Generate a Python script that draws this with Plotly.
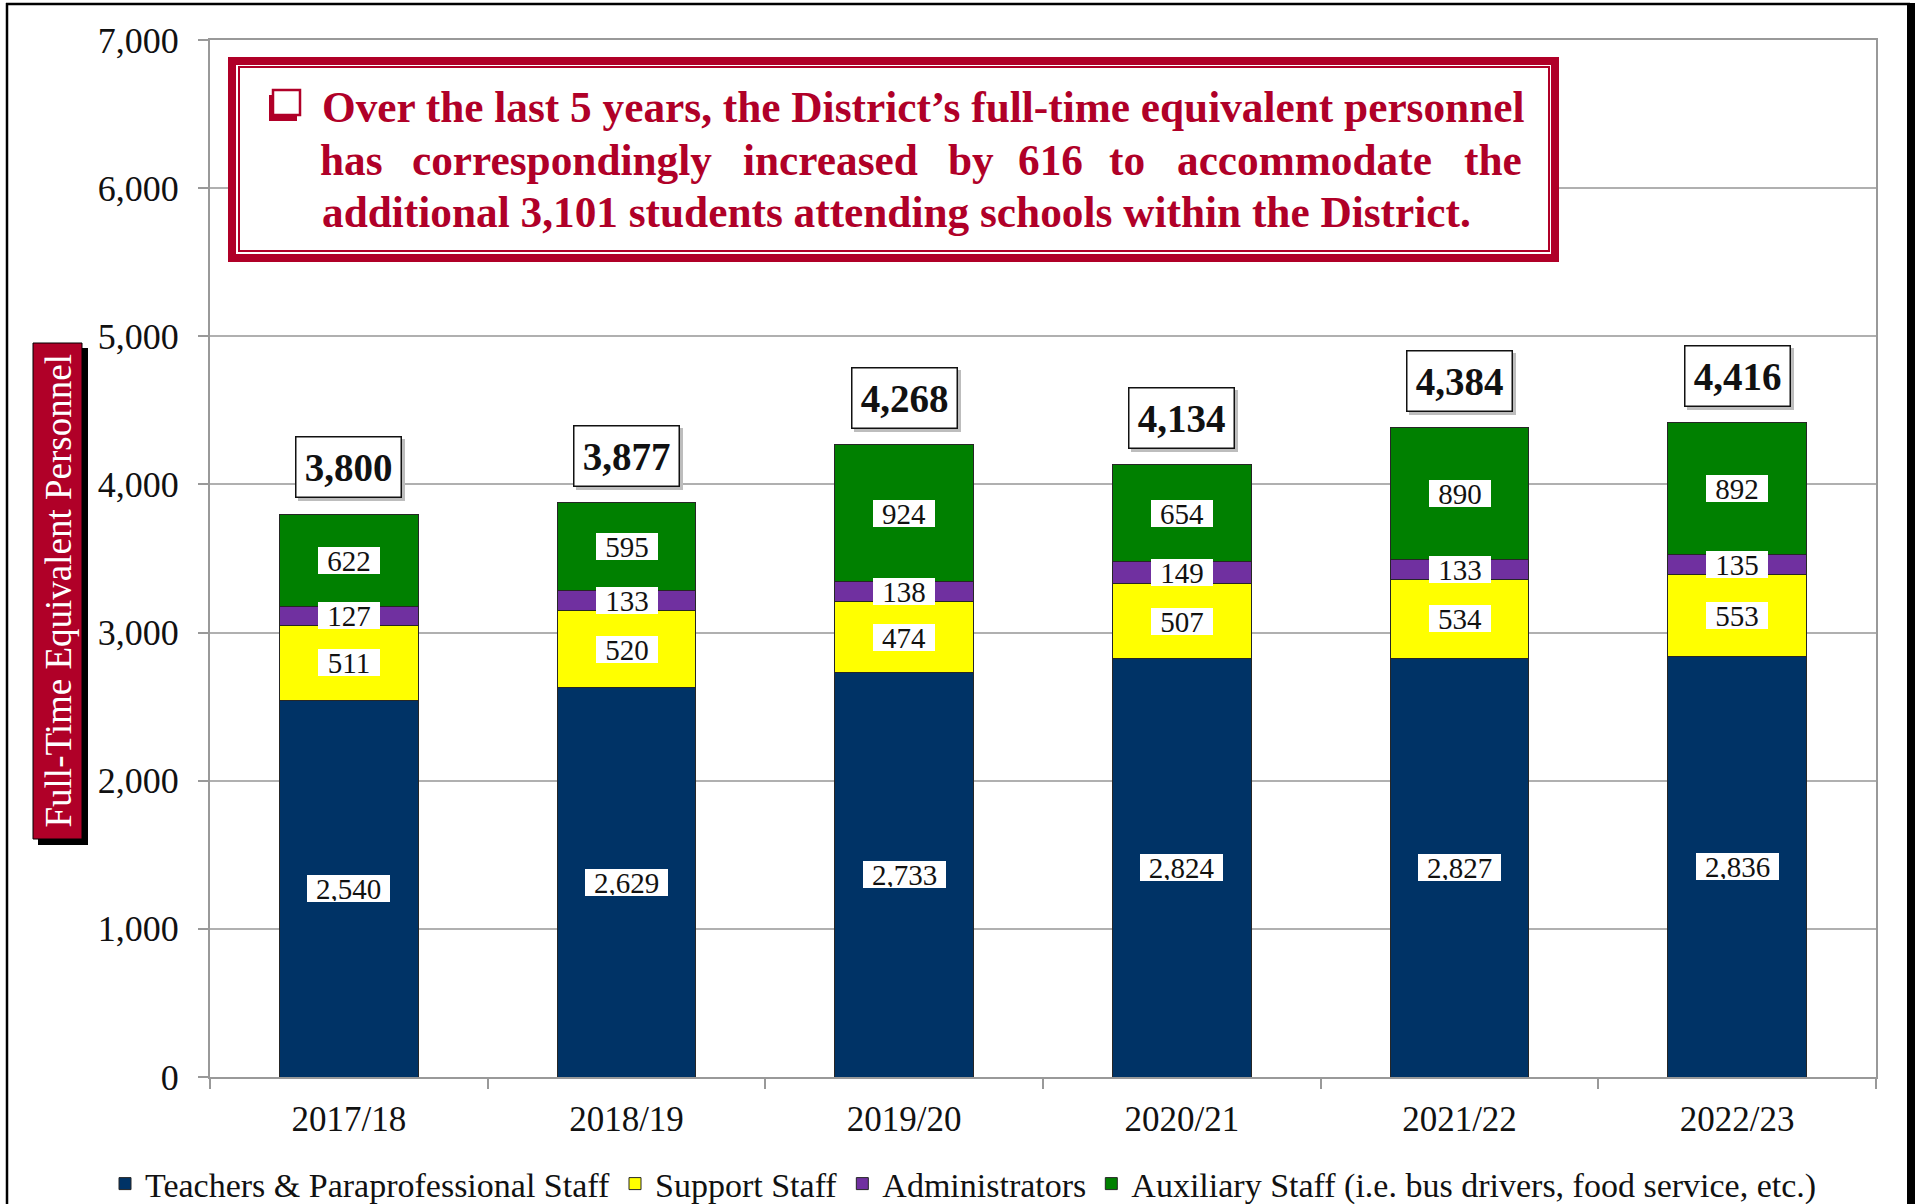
import plotly.graph_objects as go

categories = ["2017/18", "2018/19", "2019/20", "2020/21", "2021/22", "2022/23"]
teachers = [2540, 2629, 2733, 2824, 2827, 2836]
support = [511, 520, 474, 507, 534, 553]
admins = [127, 133, 138, 149, 133, 135]
auxiliary = [622, 595, 924, 654, 890, 892]
totals = [3800, 3877, 4268, 4134, 4384, 4416]

series_names = ["Teachers & Paraprofessional Staff", "Support Staff", "Administrators",
                "Auxiliary Staff (i.e. bus drivers, food service, etc.)"]
series_values = [teachers, support, admins, auxiliary]
series_colors = ["#003366", "#FFFF00", "#7030A0", "#008000"]

y_ticks = [0, 1000, 2000, 3000, 4000, 5000, 6000, 7000]
y_title = "Full-Time Equivalent Personnel"
callout_line1 = "Over the last 5 years, the District\u2019s full-time equivalent personnel"
callout_line2_words = ["has", "correspondingly", "increased", "by", "616", "to", "accommodate", "the"]
callout_line3 = "additional 3,101 students attending schools within the District."

W, H = 1915, 1204
L, R, T, B = 210, 1876, 40, 1077
RED = "#B00028"
SERIF = "Liberation Serif, Times New Roman, serif"


def px(x):
    return (x - L) / (R - L)


def py(y):
    return (B - y) / (B - T)


fig = go.Figure()
for name, vals, col in zip(series_names, series_values, series_colors):
    fig.add_trace(go.Bar(
        x=categories, y=vals, name=name, width=0.5,
        marker=dict(color=col, line=dict(color="#262626", width=1)),
        hoverinfo="skip",
    ))

annotations = []
# segment labels
for k, vals in enumerate(series_values):
    for i, c in enumerate(categories):
        base = sum(sv[i] for sv in series_values[:k])
        txt = f"{vals[i]:,}"
        nd = sum(ch.isdigit() for ch in txt)
        w = nd * 14 + (7 if "," in txt else 0) + 18
        annotations.append(dict(
            x=c, y=base + vals[i] / 2, xref="x", yref="y", text=txt, showarrow=False,
            font=dict(family=SERIF, size=29, color="#111111"),
            bgcolor="white", borderpad=1, width=w, height=25, borderwidth=0,
        ))
# total labels (shadow first, then box)
for i, c in enumerate(categories):
    annotations.append(dict(
        x=c, y=totals[i], xref="x", yref="y", text=f"<b>{totals[i]:,}</b>", showarrow=False,
        yanchor="bottom", xshift=3, yshift=13,
        font=dict(family=SERIF, size=39, color="#BDBDBD"),
        bgcolor="#BDBDBD", bordercolor="#BDBDBD", borderwidth=1.5, borderpad=4, width=96, height=51,
    ))
    annotations.append(dict(
        x=c, y=totals[i], xref="x", yref="y", text=f"<b>{totals[i]:,}</b>", showarrow=False,
        yanchor="bottom", yshift=16,
        font=dict(family=SERIF, size=39, color="#111111"),
        bgcolor="white", bordercolor="#111111", borderwidth=1.5, borderpad=4, width=96, height=51,
    ))

# callout text
cfont = dict(family=SERIF, size=43.3, color=RED)
annotations.append(dict(x=px(320), y=py(107), xref="paper", yref="paper", xanchor="left",
                        yanchor="middle", text=f"<b>{callout_line1}</b>", showarrow=False, font=cfont))
word_centers = [351, 562, 830, 971, 1050, 1127, 1304, 1493]
for wtxt, wc in zip(callout_line2_words, word_centers):
    annotations.append(dict(x=px(wc), y=py(160), xref="paper", yref="paper", xanchor="center",
                            yanchor="middle", text=f"<b>{wtxt}</b>", showarrow=False, font=cfont))
annotations.append(dict(x=px(320), y=py(212), xref="paper", yref="paper", xanchor="left",
                        yanchor="middle", text=f"<b>{callout_line3}</b>", showarrow=False, font=cfont))

# y-axis title
annotations.append(dict(x=px(57.5), y=py(591), xref="paper", yref="paper", text=y_title,
                        textangle=-90, showarrow=False, xanchor="center", yanchor="middle",
                        font=dict(family=SERIF, size=37, color="white")))

shapes = []
# y title box with shadow
shapes.append(dict(type="rect", xref="paper", yref="paper", x0=px(38), x1=px(88), y0=py(348), y1=py(845),
                   fillcolor="black", line=dict(width=0), layer="above"))
shapes.append(dict(type="rect", xref="paper", yref="paper", x0=px(33), x1=px(82), y0=py(343), y1=py(839),
                   fillcolor=RED, line=dict(color="black", width=1), layer="above"))
# callout box
shapes.append(dict(type="rect", xref="paper", yref="paper", x0=px(232), x1=px(1555), y0=py(61), y1=py(258),
                   fillcolor="white", line=dict(color=RED, width=8), layer="above"))
shapes.append(dict(type="rect", xref="paper", yref="paper", x0=px(239), x1=px(1549), y0=py(67), y1=py(251),
                   fillcolor="rgba(0,0,0,0)", line=dict(color=RED, width=2), layer="above"))
# bullet
shapes.append(dict(type="rect", xref="paper", yref="paper", x0=px(269), x1=px(297), y0=py(95), y1=py(121),
                   fillcolor=RED, line=dict(width=0), layer="above"))
shapes.append(dict(type="rect", xref="paper", yref="paper", x0=px(273), x1=px(300), y0=py(90), y1=py(115),
                   fillcolor="white", line=dict(color=RED, width=2.5), layer="above"))
# outer frame
shapes.append(dict(type="line", xref="paper", yref="paper", x0=px(7), x1=px(7), y0=py(3), y1=py(1210),
                   line=dict(color="black", width=2.5), layer="above"))
shapes.append(dict(type="line", xref="paper", yref="paper", x0=px(6), x1=px(1910), y0=py(4), y1=py(4),
                   line=dict(color="black", width=2.5), layer="above"))
shapes.append(dict(type="rect", xref="paper", yref="paper", x0=px(1907), x1=px(1920), y0=py(3), y1=py(1210),
                   fillcolor="black", line=dict(width=0), layer="above"))

fig.update_layout(
    width=W, height=H,
    margin=dict(l=L, r=W - R, t=T, b=H - B, pad=0, autoexpand=False),
    paper_bgcolor="white", plot_bgcolor="white",
    barmode="stack", bargap=0.5,
    font=dict(family=SERIF, color="#111111"),
    showlegend=True,
    legend=dict(orientation="h", x=px(105), xanchor="left",
                y=py(1184), yanchor="middle",
                font=dict(family=SERIF, size=34, color="#111111"), traceorder="normal",
                itemwidth=30, bgcolor="rgba(0,0,0,0)", tracegroupgap=0),
    annotations=annotations,
    shapes=shapes,
    xaxis=dict(type="category", showline=True, linecolor="#999999", linewidth=2, mirror=True,
               ticks="outside", tickson="boundaries", ticklen=10, tickcolor="#999999", tickwidth=2,
               tickfont=dict(family=SERIF, size=35, color="#111111"), showgrid=False,
               ticklabelstandoff=10, automargin=False),
    yaxis=dict(range=[0, 7000], tickvals=y_ticks, tickformat=",", showline=True, linecolor="#999999",
               linewidth=2, mirror=True, ticks="outside", ticklen=10, tickcolor="#999999", tickwidth=2,
               showgrid=True, gridcolor="#B0B0B0", gridwidth=1.5, zeroline=False,
               tickfont=dict(family=SERIF, size=36, color="#111111"), ticklabelstandoff=12,
               automargin=False),
)

fig.write_html("out.html", config={"displayModeBar": False},
               post_script="document.body.style.margin='0';")
